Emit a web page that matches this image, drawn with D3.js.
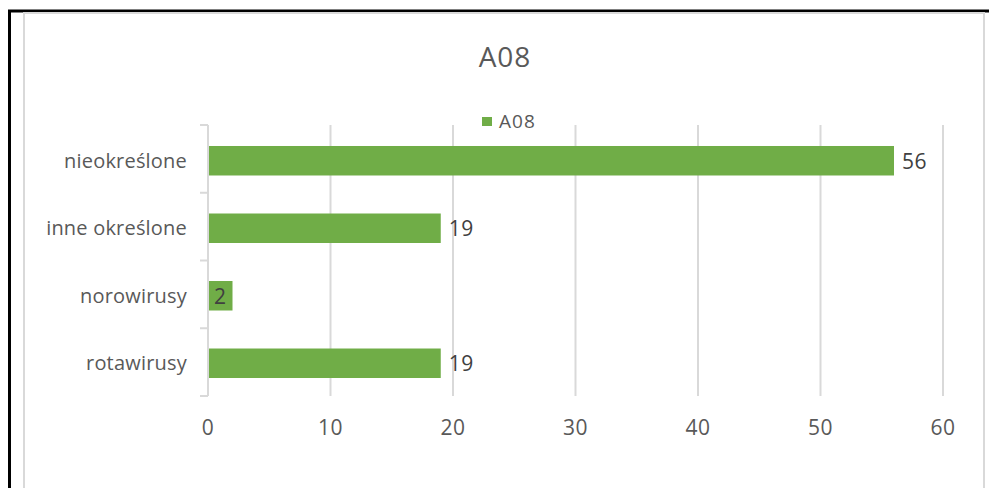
<!DOCTYPE html>
<html>
<head>
<meta charset="utf-8">
<script src="https://cdn.jsdelivr.net/npm/d3@7"></script>
<style>
  body { margin: 0; background: #fff; }
  text { font-family: "Open Sans", "Liberation Sans", sans-serif; }
</style>
</head>
<body>
<svg id="chart" width="989" height="488"></svg>
<script>
// chart data
const categories = ["nieokreślone", "inne określone", "norowirusy", "rotawirusy"];
const values = [56, 19, 2, 19];
const xTicks = [0, 10, 20, 30, 40, 50, 60];
const seriesName = "A08";

const svg = d3.select("#chart");
const barColor = "#70ad47";
const gridColor = "#d9d9d9";
const textColor = "#595959";

// outer frame (black) and chart area border (light gray)
svg.append("rect").attr("x", 9.5).attr("y", 11).attr("width", 990).attr("height", 490)
    .attr("fill", "none").attr("stroke", "#000").attr("stroke-width", 3);
svg.append("rect").attr("x", 24).attr("y", 13).attr("width", 960).attr("height", 490)
    .attr("fill", "#fff").attr("stroke", gridColor).attr("stroke-width", 2);

const plotTop = 125, plotBottom = 396;

const x = d3.scaleLinear()
    .domain([0, 60])
    .range([208, 943]);

const y = d3.scaleBand()
    .domain(categories)
    .range([plotTop, 399])
    .paddingInner(0.563)
    .paddingOuter(0.311);

// gridlines
svg.append("g")
    .selectAll("line")
    .data(xTicks.slice(1))
    .enter()
    .append("line")
    .attr("x1", d => x(d)).attr("x2", d => x(d))
    .attr("y1", plotTop).attr("y2", plotBottom)
    .attr("stroke", gridColor).attr("stroke-width", 2);

// x tick labels
svg.append("g")
    .selectAll("text")
    .data(xTicks)
    .enter()
    .append("text")
    .attr("x", d => x(d))
    .attr("y", 435)
    .attr("text-anchor", "middle")
    .attr("font-size", 21)
    .attr("letter-spacing", 0.5)
    .attr("fill", textColor)
    .text(d => d);

// y axis line + ticks between categories
const edgeStep = (plotBottom - plotTop) / categories.length;
const bandEdges = d3.range(categories.length + 1).map(i => plotTop + i * edgeStep);
svg.append("line")
    .attr("x1", x(0)).attr("x2", x(0))
    .attr("y1", plotTop).attr("y2", plotBottom)
    .attr("stroke", gridColor).attr("stroke-width", 2);
svg.append("g")
    .selectAll("line")
    .data(bandEdges)
    .enter()
    .append("line")
    .attr("x1", x(0) - 8).attr("x2", x(0))
    .attr("y1", d => d).attr("y2", d => d)
    .attr("stroke", gridColor).attr("stroke-width", 2);

// category labels
svg.append("g")
    .selectAll("text")
    .data(categories)
    .enter()
    .append("text")
    .attr("x", 187)
    .attr("y", d => y(d) + y.bandwidth() / 2 + 7)
    .attr("text-anchor", "end")
    .attr("font-size", 20)
    .attr("letter-spacing", 0.2)
    .attr("fill", textColor)
    .text(d => d);

// bars
svg.append("g")
    .selectAll("rect")
    .data(values)
    .enter()
    .append("rect")
    .attr("x", x(0) + 1)
    .attr("y", (d, i) => y(categories[i]))
    .attr("width", d => x(d) - x(0) - 1)
    .attr("height", y.bandwidth())
    .attr("fill", barColor);

// value labels (too-short bars get the label over the bar, as in the original)
svg.append("g")
    .selectAll("text")
    .data(values)
    .enter()
    .append("text")
    .attr("x", d => (x(d) - x(0) < 30) ? x(0) + 6 : x(d) + 8)
    .attr("y", (d, i) => y(categories[i]) + y.bandwidth() / 2 + 8)
    .attr("font-size", 21)
    .attr("letter-spacing", 0.5)
    .attr("fill", "#404040")
    .text(d => d);

// title
svg.append("text")
    .attr("x", 505)
    .attr("y", 67)
    .attr("text-anchor", "middle")
    .attr("font-size", 28)
    .attr("letter-spacing", 1)
    .attr("fill", textColor)
    .text(seriesName);

// legend
svg.append("rect")
    .attr("x", 482).attr("y", 117).attr("width", 10).attr("height", 9)
    .attr("fill", barColor);
svg.append("text")
    .attr("x", 499).attr("y", 128)
    .attr("font-size", 19)
    .attr("letter-spacing", 1)
    .attr("fill", textColor)
    .text(seriesName);
</script>
</body>
</html>
